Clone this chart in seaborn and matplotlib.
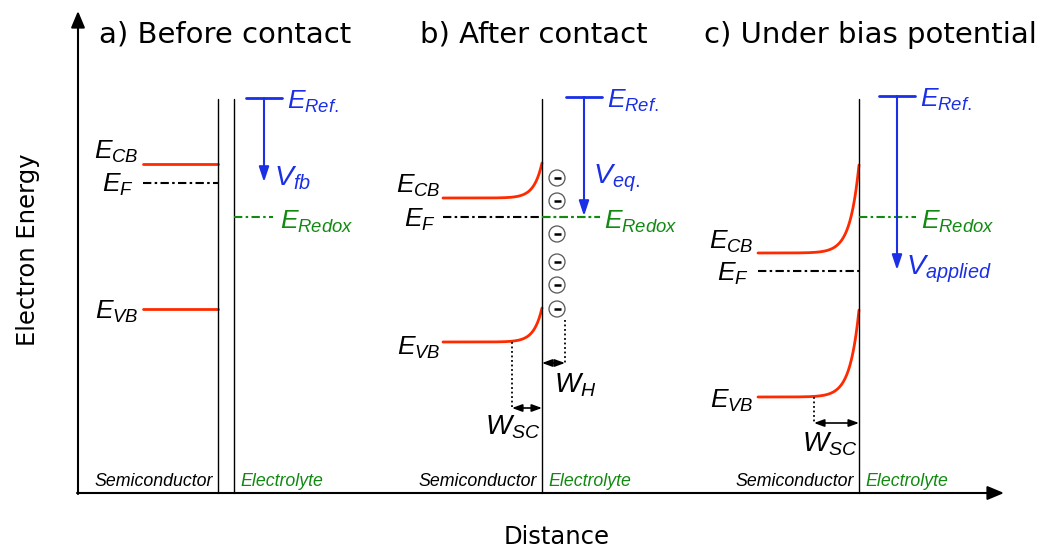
import numpy as np
import pandas as pd
import matplotlib
matplotlib.use('Agg')
import matplotlib.pyplot as plt
from matplotlib.patches import Circle
import seaborn as sns

sns.set_style('white')
plt.rcParams['font.family'] = ['DejaVu Sans']
plt.rcParams['text.color'] = 'black'
plt.rcParams['mathtext.fontset'] = 'custom'
plt.rcParams['mathtext.rm'] = 'Liberation Sans'
plt.rcParams['mathtext.it'] = 'Liberation Sans:italic'
plt.rcParams['mathtext.bf'] = 'Liberation Sans:bold'

# ---------------- data (electron energy levels, schematic units; larger = lower energy)
panel_titles = ['a) Before contact', 'b) After contact', 'c) Under bias potential']
ecb_bulk = [164, 198, 253]
ecb_surface = [164, 163, 165]
evb_bulk = [309, 342, 397]
evb_surface = [309, 308, 310]
fermi_level = [183, 217, 271]
redox_level = [217, 217, 217]
ref_level = [98, 97, 96]
potential_labels = [r'$V_{fb}$', r'$V_{eq.}$', r'$V_{applied}$']
helmholtz_charges = [178, 201, 234, 262, 285, 309]
region_labels = ['Semiconductor', 'Electrolyte']

# ---------------- layout
sc_left = [143, 443, 758]
interface = [218, 542, 859]
electrolyte_edge = [234, 542, 859]
ref_x = [246, 566, 879]
redox_end = [273, 600, 916]
title_x = [225, 534, 870]
bend_len = [1, 8, 9]

RED = '#ff2a00'
BLUE = '#1a2fe6'
GREEN = '#128a12'

fig = plt.figure(figsize=(10.4, 5.52), dpi=100)
ax = fig.add_axes([0, 0, 1, 1])

# band edges via seaborn
rows = []
for i in range(3):
    xs = np.linspace(sc_left[i], interface[i], 200)
    for name, bulk, surf in [('cb', ecb_bulk[i], ecb_surface[i]), ('vb', evb_bulk[i], evb_surface[i])]:
        if i == 0:
            ys = np.full_like(xs, bulk, dtype=float)
        else:
            ys = bulk + (surf - bulk) * np.exp((xs - interface[i]) / bend_len[i])
        for x, y in zip(xs, ys):
            rows.append({'x': x, 'y': y, 'band': f'{name}{i}'})
df = pd.DataFrame(rows)
sns.lineplot(data=df, x='x', y='y', units='band', estimator=None, sort=False,
             color=RED, lw=2, ax=ax, legend=False)
ax.set_xlim(0, 1040)
ax.set_ylim(552, 0)
ax.axis('off')

# axes arrows
ax.annotate('', xy=(78, 11), xytext=(78, 494),
            arrowprops=dict(arrowstyle='-|>,head_length=1.0,head_width=0.42', lw=1.5,
                            color='black', shrinkA=0, shrinkB=0))
ax.annotate('', xy=(1004, 493), xytext=(77, 493),
            arrowprops=dict(arrowstyle='-|>,head_length=1.0,head_width=0.42', lw=1.5,
                            color='black', shrinkA=0, shrinkB=0))
ax.text(28, 250, 'Electron Energy', rotation=90, ha='center', va='center', fontsize=17.5)
ax.text(557, 537, 'Distance', ha='center', va='center', fontsize=17.5)

dashdot = (0, (4, 1.6, 1.2, 1.6))
for i in range(3):
    ax.text(title_x[i], 35, panel_titles[i], ha='center', va='center', fontsize=21)
    ax.plot([interface[i]] * 2, [99, 493], color='black', lw=1)
    if electrolyte_edge[i] != interface[i]:
        ax.plot([electrolyte_edge[i]] * 2, [99, 493], color='black', lw=1)
    ax.plot([sc_left[i], interface[i]], [fermi_level[i]] * 2, color='black', lw=1.5, linestyle=dashdot)
    ax.plot([electrolyte_edge[i], redox_end[i]], [redox_level[i]] * 2, color=GREEN, lw=1.5, linestyle=dashdot)
    ax.plot([ref_x[i], ref_x[i] + 36], [ref_level[i]] * 2, color=BLUE, lw=2)
    ax.annotate('', xy=(ref_x[i] + 18, fermi_level[i] - 1), xytext=(ref_x[i] + 18, ref_level[i]),
                arrowprops=dict(arrowstyle='-|>,head_length=0.9,head_width=0.3', lw=1.5,
                                color=BLUE, shrinkA=0, shrinkB=0))
    ax.text(ref_x[i] + 41, ref_level[i] + 4, r'$E_{Ref.}$', color=BLUE, fontsize=19,
            ha='left', va='center')
    ax.text(interface[i] - 5, 481, region_labels[0], style='italic', fontsize=12.8,
            family='Liberation Sans', ha='right', va='center')
    ax.text(electrolyte_edge[i] + 6, 481, region_labels[1], style='italic', fontsize=12.8,
            family='Liberation Sans', ha='left', va='center', color=GREEN)

lab_x = [139, 441, 754]
cb_lab_y = [152, 186, 242]
ef_lab_y = [185, 220, 274]
vb_lab_y = [312, 348, 401]
for i in range(3):
    ax.text(lab_x[i], cb_lab_y[i], r'$E_{CB}$', fontsize=19, ha='right', va='center')
    ax.text(lab_x[i] - 5, ef_lab_y[i], r'$E_{F}$', fontsize=19, ha='right', va='center')
    ax.text(lab_x[i], vb_lab_y[i], r'$E_{VB}$', fontsize=19, ha='right', va='center')

pot_pos = [(274, 178), (593, 178), (906, 269)]
for (x, y), lab in zip(pot_pos, potential_labels):
    ax.text(x, y, lab, color=BLUE, fontsize=20.5, ha='left', va='center')
redox_lab_x = [280, 604, 921]
for i in range(3):
    ax.text(redox_lab_x[i], redox_level[i] + 5, r'$E_{Redox}$', color=GREEN, fontsize=19,
            ha='left', va='center')

ax.plot([interface[1], redox_end[1]], [fermi_level[1]] * 2, color=GREEN, lw=1.5, linestyle=dashdot)

for y in helmholtz_charges:
    ax.add_patch(Circle((557, y), 8, facecolor='white', edgecolor='#555555', lw=0.9, zorder=3))
    ax.plot([553.5, 560.5], [y, y], color='black', lw=1.8, zorder=4, solid_capstyle='butt')

def width_marker(x0, x1, ytop, ybot, dotted_x):
    ax.plot([dotted_x, dotted_x], [ytop, ybot], color='black', lw=1.3, linestyle=(0, (1, 1.5)))
    ax.annotate('', xy=(x0, ybot), xytext=(x1, ybot),
                arrowprops=dict(arrowstyle='<|-|>,head_length=0.6,head_width=0.22', lw=1.2,
                                color='black', shrinkA=0, shrinkB=0))

width_marker(512, 542, evb_bulk[1], 408, 512)
width_marker(542, 565, 320, 363, 565)
width_marker(814, 859, evb_bulk[2], 423, 814)
ax.text(540, 427, r'$W_{SC}$', fontsize=20, ha='right', va='center')
ax.text(554, 385, r'$W_{H}$', fontsize=20, ha='left', va='center')
ax.text(857, 444, r'$W_{SC}$', fontsize=20, ha='right', va='center')

fig.savefig('out.png', dpi=100)
